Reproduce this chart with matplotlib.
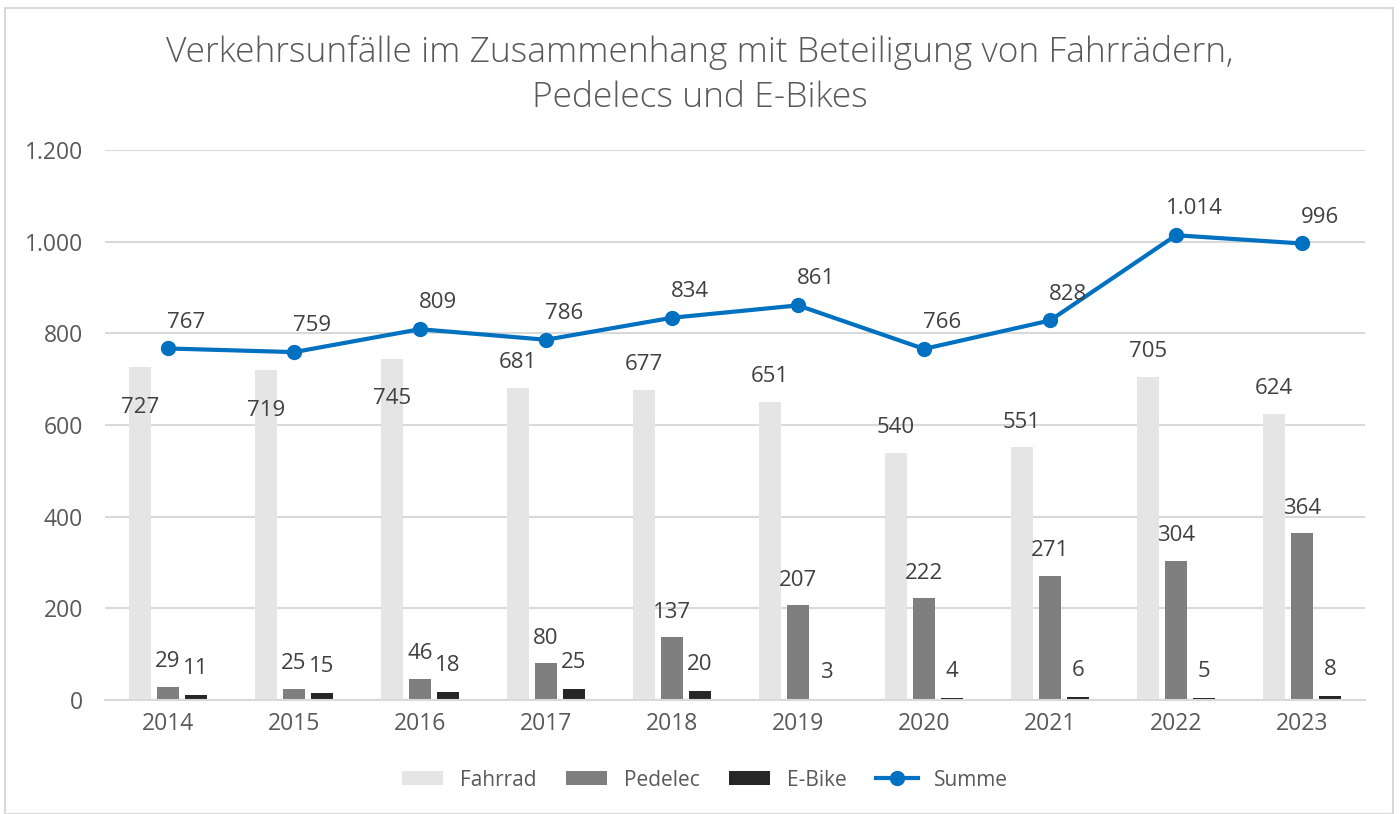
import matplotlib
matplotlib.use("Agg")
import matplotlib.pyplot as plt
from matplotlib.patches import Rectangle
from matplotlib.lines import Line2D
from matplotlib.patches import Patch
import numpy as np

years = ["2014", "2015", "2016", "2017", "2018", "2019", "2020", "2021", "2022", "2023"]
fahrrad = [727, 719, 745, 681, 677, 651, 540, 551, 705, 624]
pedelec = [29, 25, 46, 80, 137, 207, 222, 271, 304, 364]
ebike = [11, 15, 18, 25, 20, 3, 4, 6, 5, 8]
summe = [767, 759, 809, 786, 834, 861, 766, 828, 1014, 996]
yticks = [0, 200, 400, 600, 800, 1000, 1200]

def de_fmt(v):
    return f"{v:,}".replace(",", ".")

plt.rcParams['font.family'] = ['Open Sans', 'DejaVu Sans']

fig = plt.figure(figsize=(14, 8.14), dpi=100)
fig.patches.append(Rectangle((5/1400, 0), 1388/1400, 1 - 8/814, transform=fig.transFigure,
                             fill=False, edgecolor="#D9D9D9", linewidth=1.5))
ax = fig.add_axes([105/1400, 1 - 700/814, 1260/1400, 550/814])

x = np.arange(len(years))
w = 0.175
off = 0.222
c_f, c_p, c_e, c_s = "#E5E5E5", "#7F7F7F", "#262626", "#0070C0"
ax.bar(x - off, fahrrad, w, color=c_f, zorder=2)
ax.bar(x, pedelec, w, color=c_p, zorder=2)
ax.bar(x + off, ebike, w, color=c_e, zorder=2)
ax.plot(x, summe, color=c_s, linewidth=3, marker="o", markersize=10, zorder=4,
        solid_capstyle="round")

ax.set_xlim(-0.5, len(years) - 0.5)
ax.set_ylim(0, 1200)
ax.set_yticks(yticks)
ax.set_yticklabels([de_fmt(v) for v in yticks])
ax.set_xticks(x)
ax.set_xticklabels(years)
ax.tick_params(axis="both", length=0, labelsize=16.5, labelcolor="#595959")
ax.tick_params(axis="y", pad=16)
ax.tick_params(axis="x", pad=9)
ax.yaxis.grid(True, color="#D9D9D9", linewidth=1.5, zorder=0)
ax.set_axisbelow(True)
for s in ["top", "right", "left"]:
    ax.spines[s].set_visible(False)
ax.spines["bottom"].set_color("#D9D9D9")
ax.spines["bottom"].set_linewidth(1.5)

lbl = dict(fontsize=16, color="#404040", ha="center", va="center", zorder=5)
for i in range(len(years)):
    # Fahrrad label: inside when Summe label is close above
    if summe[i] - fahrrad[i] < 80:
        ax.annotate(de_fmt(fahrrad[i]), (x[i] - off, fahrrad[i]), xytext=(0, -29),
                    textcoords="offset points", **lbl)
    else:
        ax.annotate(de_fmt(fahrrad[i]), (x[i] - off, fahrrad[i]), xytext=(0, 18),
                    textcoords="offset points", **lbl)
    ax.annotate(de_fmt(pedelec[i]), (x[i], pedelec[i]), xytext=(0, 18),
                textcoords="offset points", **lbl)
    ax.annotate(de_fmt(ebike[i]), (x[i] + off, ebike[i]), xytext=(0, 19),
                textcoords="offset points", **lbl)
    ax.annotate(de_fmt(summe[i]), (x[i], summe[i]), xytext=(13, 19),
                textcoords="offset points", **lbl)

fig.text(0.5, 1 - 75/814, "Verkehrsunfälle im Zusammenhang mit Beteiligung von Fahrrädern,\nPedelecs und E-Bikes",
         ha="center", va="center", fontsize=25.5, color="#595959", fontweight="light", linespacing=1.38)

handles = [Patch(facecolor=c_f, label="Fahrrad"),
           Patch(facecolor=c_p, label="Pedelec"),
           Patch(facecolor=c_e, label="E-Bike"),
           Line2D([0], [0], color=c_s, linewidth=3, marker="o", markersize=10, label="Summe")]
leg = fig.legend(handles=handles, loc="center", bbox_to_anchor=(705/1400, 1 - 780/814), ncol=4,
                 frameon=False, fontsize=15, handlelength=2.0, handleheight=0.65,
                 handletextpad=0.8, columnspacing=1.4)
for t in leg.get_texts():
    t.set_color("#595959")

fig.savefig("out.png", dpi=100)
